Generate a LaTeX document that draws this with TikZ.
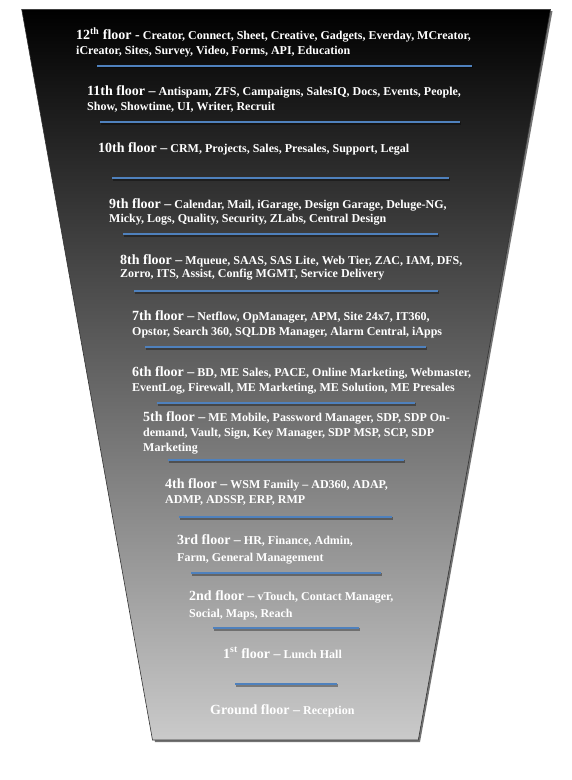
\documentclass[tikz,border=0pt]{standalone}
\usepackage{fontspec}
\setmainfont{Liberation Serif}
\definecolor{floorblue}{RGB}{79,129,189}
\definecolor{bottomgray}{RGB}{202,202,202}
\definecolor{midgray}{RGB}{100,100,100}
\newcommand{\hd}[1]{{\fontsize{14}{14}\selectfont #1}}
\tikzset{
  txt/.style={anchor=base west, inner sep=0pt, text=white,
    font=\fontsize{12}{13}\selectfont\bfseries},
  sep/.style={draw=floorblue, line width=2.4pt},
  sepshadow/.style={draw=black, opacity=0.35, line width=2.4pt},
}
\begin{document}
\begin{tikzpicture}[x=1pt,y=-1pt]
\useasboundingbox (0,0) rectangle (571,780);
% shadow of the shape
\fill[black, opacity=0.55] (23.5,11) -- (552.5,11) -- (420,742) -- (155,742) -- cycle;
% the shape
\shade[top color=black, bottom color=bottomgray, middle color=midgray]
  (21.7,9.3) -- (550.5,9.3) -- (418.3,740) -- (152.5,740) -- cycle;
\draw[black!80, line width=0.6pt] (21.7,9.3) -- (550.5,9.3) -- (418.3,740) -- (152.5,740) -- cycle;

% separators (y, x1, x2)
\foreach \yy/\xa/\xb in {65.7/97/472, 122/100/460, 178/112/449, 234/123/438,
  291/134/438, 347/145/426, 403/157/415, 460/168/404, 517/179/392,
  573/191/381, 628/213/359, 684/235/337}{
  \draw[sepshadow] (\xa+0.6,\yy+1.3) -- (\xb+0.6,\yy+1.3);
  \draw[sep] (\xa,\yy) -- (\xb,\yy);
}

% texts
\node[txt] (f12a) at (76,39.3) {\hd{12\textsuperscript{th} floor -} Creator, Connect, Sheet, Creative, Gadgets, Everday, MCreator,};
\node[txt] (f12b) at (76,54) {iCreator, Sites, Survey, Video, Forms, API, Education};
\node[txt] (f11a) at (87,95) {\hd{11th floor –} Antispam, ZFS, Campaigns, SalesIQ, Docs, Events, People,};
\node[txt] (f11b) at (87,110) {Show, Showtime, UI, Writer, Recruit};
\node[txt] (f10a) at (98,152) {\hd{10th floor –} CRM, Projects, Sales, Presales, Support, Legal};
\node[txt] (f9a) at (109,208) {\hd{9th floor –} Calendar, Mail, iGarage, Design Garage, Deluge-NG,};
\node[txt] (f9b) at (109,222) {Micky, Logs, Quality, Security, ZLabs, Central Design};
\node[txt] (f8a) at (120,264) {\hd{8th floor –} Mqueue, SAAS, SAS Lite, Web Tier, ZAC, IAM, DFS,};
\node[txt] (f8b) at (120,277) {Zorro, ITS, Assist, Config MGMT, Service Delivery};
\node[txt] (f7a) at (132,320) {\hd{7th floor –} Netflow, OpManager, APM, Site 24x7, IT360,};
\node[txt] (f7b) at (132,335) {Opstor, Search 360, SQLDB Manager, Alarm Central, iApps};
\node[txt] (f6a) at (132,376) {\hd{6th floor –} BD, ME Sales, PACE, Online Marketing, Webmaster,};
\node[txt] (f6b) at (132,391) {EventLog, Firewall, ME Marketing, ME Solution, ME Presales};
\node[txt] (f5a) at (143,421) {\hd{5th floor –} ME Mobile, Password Manager, SDP, SDP On-};
\node[txt] (f5b) at (143,436) {demand, Vault, Sign, Key Manager, SDP MSP, SCP, SDP};
\node[txt] (f5c) at (143,451) {Marketing};
\node[txt] (f4a) at (165,488) {\hd{4th floor –} WSM Family – AD360, ADAP,};
\node[txt] (f4b) at (165,503) {ADMP, ADSSP, ERP, RMP};
\node[txt] (f3a) at (177,544) {\hd{3rd floor –} HR, Finance, Admin,};
\node[txt] (f3b) at (177,561) {Farm, General Management};
\node[txt] (f2a) at (189,600) {\hd{2nd floor –} vTouch, Contact Manager,};
\node[txt] (f2b) at (189,617) {Social, Maps, Reach};
\node[txt] (f1a) at (223,658) {\hd{1\textsuperscript{st} floor –} Lunch Hall};
\node[txt] (fga) at (210,714) {\hd{Ground floor –} Reception};
\end{tikzpicture}
\end{document}
